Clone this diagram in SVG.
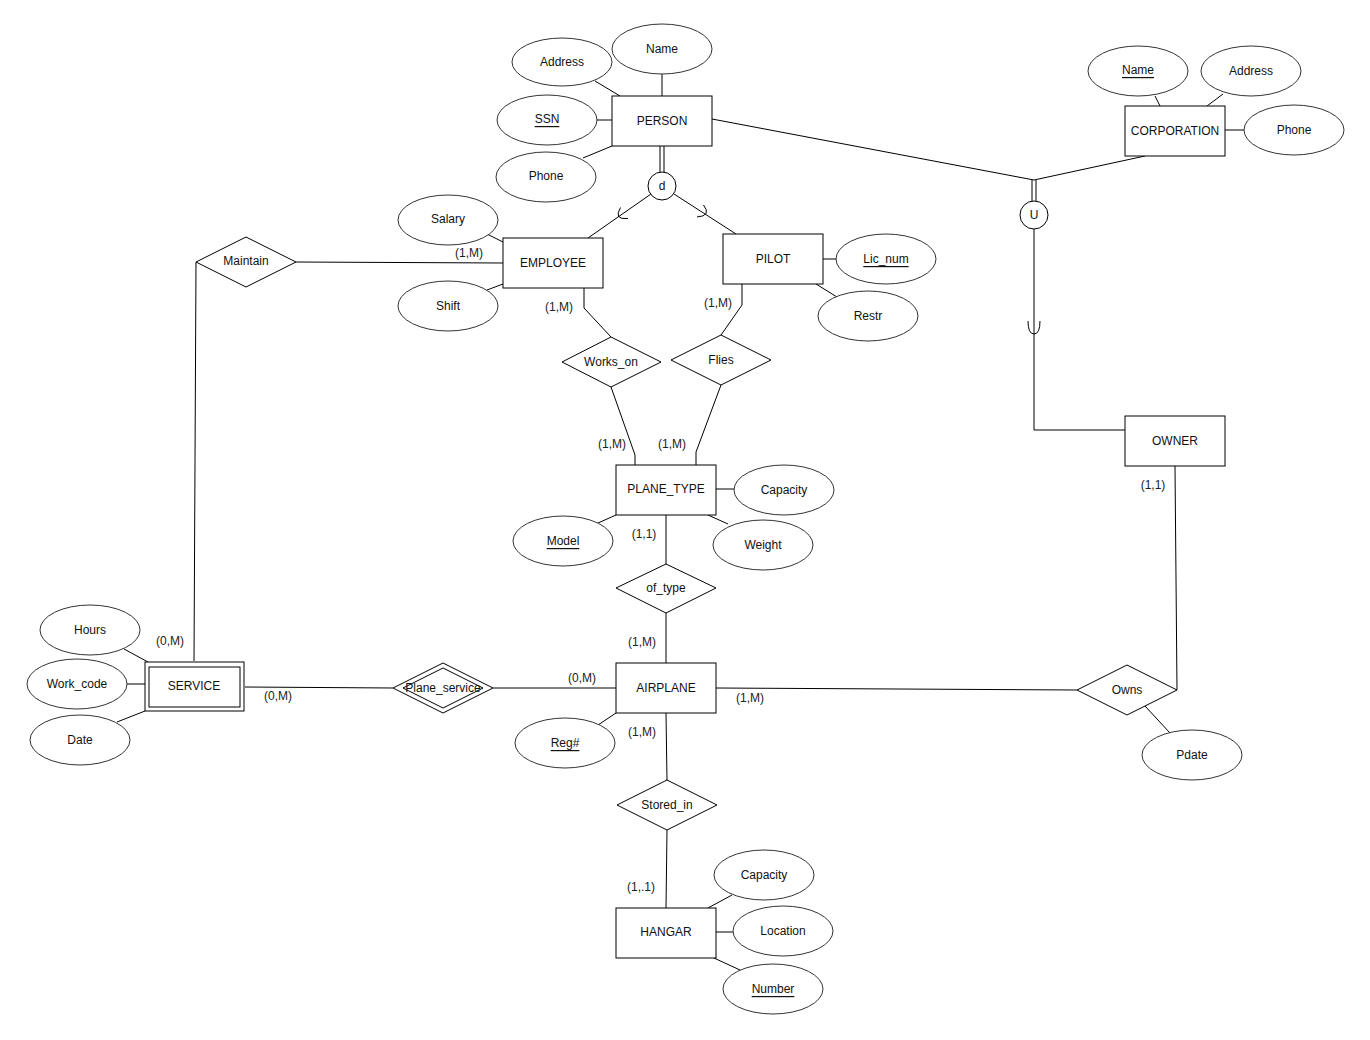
<svg xmlns="http://www.w3.org/2000/svg" width="1370" height="1040" viewBox="0 0 1370 1040">
<style>
text{font-family:"Liberation Sans",Arial,sans-serif;font-size:12px;fill:#111;text-anchor:middle;dominant-baseline:central}
.e{fill:#fff;stroke:#000;stroke-width:1}
.a{fill:#fff;stroke:#333;stroke-width:1}
.r{fill:#fff;stroke:#000;stroke-width:1}
.l{fill:none;stroke:#000;stroke-width:1}
.c{font-size:12px;fill:#222}
.u{text-decoration:underline}
</style>
<rect width="1370" height="1040" fill="#fff"/>
<g id="connectors">
<line class="l" x1="662" y1="74" x2="662" y2="96"/>
<line class="l" x1="595" y1="81" x2="620" y2="96"/>
<line class="l" x1="597" y1="120" x2="612" y2="120"/>
<line class="l" x1="583" y1="158" x2="612" y2="146"/>
<line class="l" x1="660" y1="146" x2="660" y2="172"/>
<line class="l" x1="664" y1="146" x2="664" y2="172"/>
<line class="l" x1="651" y1="194" x2="588" y2="238"/>
<path class="l" d="M620.5,207.5 Q613,220 628,218.5"/>
<line class="l" x1="674" y1="194" x2="736" y2="234"/>
<path class="l" d="M703.5,205 Q712,216 697,217"/>
<polyline class="l" points="712,119 1034,180 1145,156"/>
<line class="l" x1="1032" y1="180" x2="1032" y2="201"/>
<line class="l" x1="1036" y1="180" x2="1036" y2="201"/>
<polyline class="l" points="1034,229 1034,430 1125,430"/>
<path class="l" d="M1028,321 Q1028,334 1034,334 Q1040,334 1040,321"/>
<line class="l" x1="1155" y1="96" x2="1160" y2="106"/>
<line class="l" x1="1223" y1="94" x2="1207" y2="106"/>
<line class="l" x1="1225" y1="130" x2="1244" y2="130"/>
<line class="l" x1="487" y1="234" x2="503" y2="242"/>
<line class="l" x1="487" y1="290" x2="503" y2="284"/>
<line class="l" x1="296" y1="262" x2="503" y2="263"/>
<line class="l" x1="196" y1="262" x2="194" y2="661"/>
<polyline class="l" points="584,288 584,308 611,337"/>
<polyline class="l" points="611,387 635,455 635,465"/>
<polyline class="l" points="742,284 742,305 721,335"/>
<polyline class="l" points="721,385 696,452 696,465"/>
<line class="l" x1="823" y1="259" x2="836" y2="259"/>
<line class="l" x1="816" y1="284" x2="837" y2="297"/>
<line class="l" x1="716" y1="489" x2="734" y2="489"/>
<line class="l" x1="598" y1="523" x2="616" y2="515"/>
<line class="l" x1="708" y1="515" x2="728" y2="524"/>
<line class="l" x1="666" y1="515" x2="666" y2="564"/>
<line class="l" x1="666" y1="613" x2="666" y2="663"/>
<line class="l" x1="245" y1="687" x2="393" y2="688"/>
<line class="l" x1="493" y1="688" x2="616" y2="688"/>
<line class="l" x1="716" y1="688" x2="1077" y2="690"/>
<line class="l" x1="1177" y1="690" x2="1175" y2="466"/>
<line class="l" x1="1145" y1="706" x2="1170" y2="733"/>
<line class="l" x1="598" y1="725" x2="616" y2="713"/>
<line class="l" x1="666" y1="713" x2="667" y2="780"/>
<line class="l" x1="667" y1="830" x2="666" y2="908"/>
<line class="l" x1="732" y1="895" x2="708" y2="908"/>
<line class="l" x1="716" y1="932" x2="733" y2="932"/>
<line class="l" x1="714" y1="958" x2="740" y2="970"/>
<line class="l" x1="124" y1="649" x2="148" y2="662"/>
<line class="l" x1="127" y1="684" x2="145" y2="684"/>
<line class="l" x1="117" y1="722" x2="145" y2="711"/>
<text class="c" x="469" y="253">(1,M)</text>
<text class="c" x="170" y="641">(0,M)</text>
<text class="c" x="559" y="307">(1,M)</text>
<text class="c" x="612" y="444">(1,M)</text>
<text class="c" x="718" y="303">(1,M)</text>
<text class="c" x="672" y="444">(1,M)</text>
<text class="c" x="644" y="534">(1,1)</text>
<text class="c" x="642" y="642">(1,M)</text>
<text class="c" x="278" y="696">(0,M)</text>
<text class="c" x="582" y="678">(0,M)</text>
<text class="c" x="750" y="698">(1,M)</text>
<text class="c" x="1153" y="485">(1,1)</text>
<text class="c" x="642" y="732">(1,M)</text>
<text class="c" x="641" y="887">(1,.1)</text>
</g>
<g id="PERSON"><rect class="r" x="612" y="96" width="100" height="50"/><text x="662" y="121">PERSON</text></g>
<g id="CORPORATION"><rect class="r" x="1125" y="106" width="100" height="50"/><text x="1175" y="131">CORPORATION</text></g>
<g id="EMPLOYEE"><rect class="r" x="503" y="238" width="100" height="50"/><text x="553" y="263">EMPLOYEE</text></g>
<g id="PILOT"><rect class="r" x="723" y="234" width="100" height="50"/><text x="773" y="259">PILOT</text></g>
<g id="PLANE_TYPE"><rect class="r" x="616" y="465" width="100" height="50"/><text x="666" y="489">PLANE_TYPE</text></g>
<g id="OWNER"><rect class="r" x="1125" y="416" width="100" height="50"/><text x="1175" y="441">OWNER</text></g>
<g id="SERVICE"><rect class="r" x="145" y="662" width="99" height="49"/><rect class="r" x="149" y="667" width="91" height="40"/><text x="194" y="686">SERVICE</text></g>
<g id="AIRPLANE"><rect class="r" x="616" y="663" width="100" height="50"/><text x="666" y="688">AIRPLANE</text></g>
<g id="HANGAR"><rect class="r" x="616" y="908" width="100" height="50"/><text x="666" y="932">HANGAR</text></g>
<g id="d"><circle class="e" cx="662" cy="186" r="14"/><text x="662" y="186">d</text></g>
<g id="U"><circle class="e" cx="1034" cy="215" r="14"/><text x="1034" y="215">U</text></g>
<g id="Maintain"><polygon class="e" points="246,237 296,262 246,287 196,262"/><text x="246" y="261">Maintain</text></g>
<g id="Works_on"><polygon class="e" points="611,337 661,362 611,387 562,362"/><text x="611" y="362">Works_on</text></g>
<g id="Flies"><polygon class="e" points="721,335 771,360 721,385 671,360"/><text x="721" y="360">Flies</text></g>
<g id="of_type"><polygon class="e" points="666,564 716,588 666,613 616,588"/><text x="666" y="588">of_type</text></g>
<g id="Plane_service"><polygon class="e" points="443,663 493,688 443,713 393,688"/><polygon class="e" points="443,668 483,688 443,708 403,688"/><text x="443" y="688">Plane_service</text></g>
<g id="Owns"><polygon class="e" points="1127,665 1177,690 1127,715 1077,690"/><text x="1127" y="690">Owns</text></g>
<g id="Stored_in"><polygon class="e" points="667,780 717,805 667,830 617,805"/><text x="667" y="805">Stored_in</text></g>
<g id="attr_person_name"><ellipse class="a" cx="662" cy="49" rx="50" ry="25"/><text x="662" y="49">Name</text></g>
<g id="attr_person_address"><ellipse class="a" cx="562" cy="62" rx="50" ry="24"/><text x="562" y="62">Address</text></g>
<g id="attr_ssn"><ellipse class="a" cx="547" cy="120" rx="50" ry="25"/><text class="u" x="547" y="119">SSN</text></g>
<g id="attr_person_phone"><ellipse class="a" cx="546" cy="177" rx="50" ry="25"/><text x="546" y="176">Phone</text></g>
<g id="attr_salary"><ellipse class="a" cx="448" cy="220" rx="50" ry="25"/><text x="448" y="219">Salary</text></g>
<g id="attr_shift"><ellipse class="a" cx="448" cy="306" rx="50" ry="25"/><text x="448" y="306">Shift</text></g>
<g id="attr_lic_num"><ellipse class="a" cx="886" cy="259" rx="50" ry="25"/><text class="u" x="886" y="259">Lic_num</text></g>
<g id="attr_restr"><ellipse class="a" cx="868" cy="316" rx="50" ry="25"/><text x="868" y="316">Restr</text></g>
<g id="attr_pt_capacity"><ellipse class="a" cx="784" cy="490" rx="50" ry="25"/><text x="784" y="490">Capacity</text></g>
<g id="attr_model"><ellipse class="a" cx="563" cy="541" rx="50" ry="25"/><text class="u" x="563" y="541">Model</text></g>
<g id="attr_weight"><ellipse class="a" cx="763" cy="545" rx="50" ry="25"/><text x="763" y="545">Weight</text></g>
<g id="attr_reg"><ellipse class="a" cx="565" cy="743" rx="50" ry="25"/><text class="u" x="565" y="743">Reg#</text></g>
<g id="attr_hours"><ellipse class="a" cx="90" cy="630" rx="50" ry="25"/><text x="90" y="630">Hours</text></g>
<g id="attr_work_code"><ellipse class="a" cx="77" cy="684" rx="50" ry="25"/><text x="77" y="684">Work_code</text></g>
<g id="attr_date"><ellipse class="a" cx="80" cy="740" rx="50" ry="25"/><text x="80" y="740">Date</text></g>
<g id="attr_pdate"><ellipse class="a" cx="1192" cy="755" rx="50" ry="25"/><text x="1192" y="755">Pdate</text></g>
<g id="attr_h_capacity"><ellipse class="a" cx="764" cy="875" rx="50" ry="25"/><text x="764" y="875">Capacity</text></g>
<g id="attr_location"><ellipse class="a" cx="783" cy="931" rx="50" ry="25"/><text x="783" y="931">Location</text></g>
<g id="attr_number"><ellipse class="a" cx="773" cy="989" rx="50" ry="25"/><text class="u" x="773" y="989">Number</text></g>
<g id="attr_corp_name"><ellipse class="a" cx="1138" cy="71" rx="50" ry="25"/><text class="u" x="1138" y="70">Name</text></g>
<g id="attr_corp_address"><ellipse class="a" cx="1251" cy="71" rx="50" ry="25"/><text x="1251" y="71">Address</text></g>
<g id="attr_corp_phone"><ellipse class="a" cx="1294" cy="130" rx="50" ry="25"/><text x="1294" y="130">Phone</text></g>
</svg>
